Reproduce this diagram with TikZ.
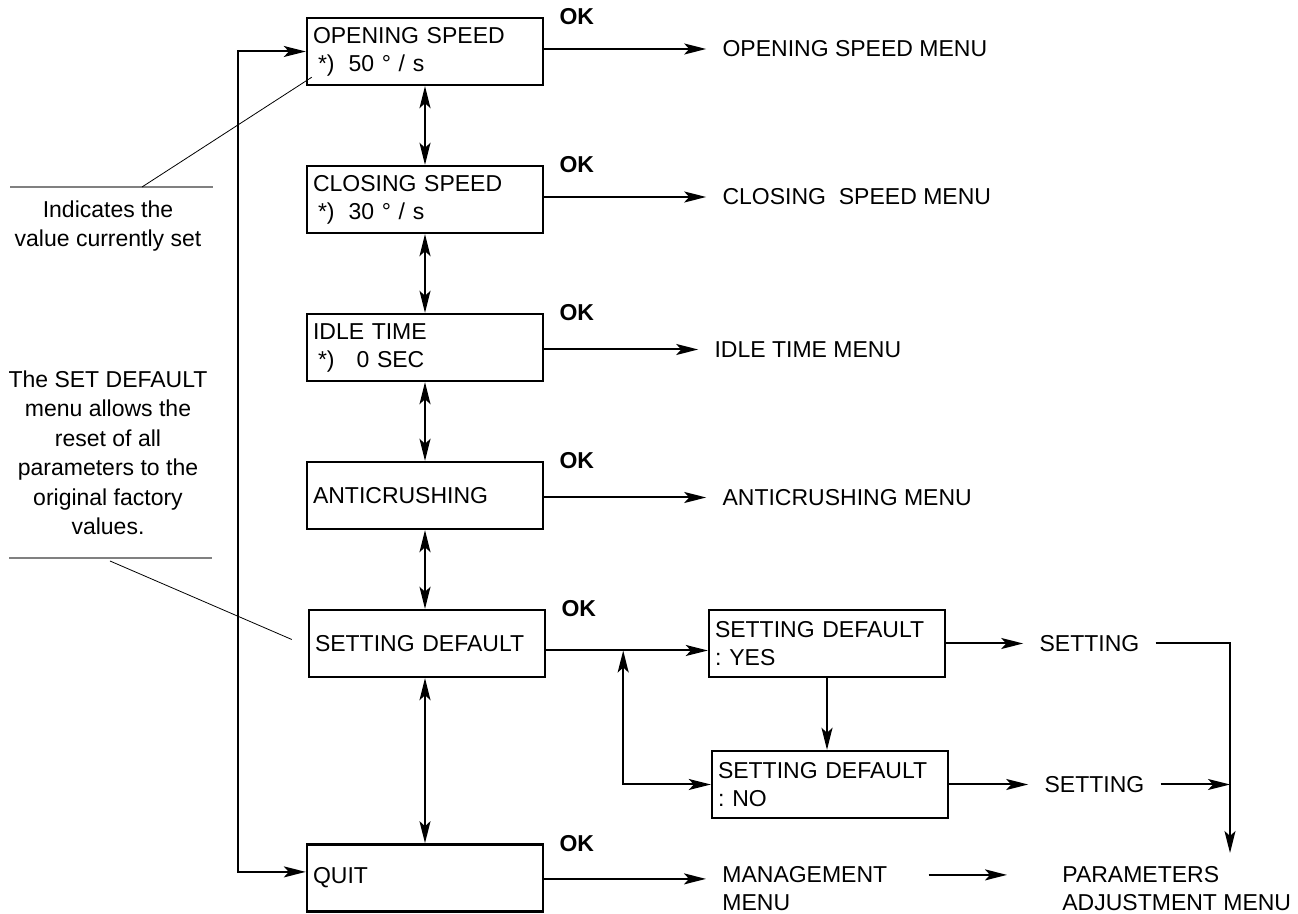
\documentclass[tikz,border=0pt]{standalone}
\usepackage{fontspec}
\setmainfont{Liberation Sans}
\usepackage{tikz}
\usetikzlibrary{calc, positioning, arrows.meta}

\newcommand{\boxfont}{\fontsize{11.5}{14}\selectfont}
\newcommand{\notefont}{\fontsize{11.5}{14.75}\selectfont}

\begin{document}
\begin{tikzpicture}[
        x=0.5pt, y=-0.5pt,
        >={Stealth[length=11pt, width=5.5pt, inset=2.5pt]},
        menubox/.style={draw, line width=1.2pt, rectangle, text width=112pt, inner xsep=3pt, minimum height=33.5pt, align=left, font=\boxfont},
        menulbl/.style={inner xsep=8pt, inner ysep=0pt, align=left, font=\boxfont},
        oklbl/.style={inner sep=0pt, font=\boxfont\bfseries},
        notelbl/.style={inner sep=0pt, align=center, font=\notefont},
        link/.style={line width=1pt, ->},
        rule/.style={gray, line width=0.6pt},
        lead/.style={line width=0.4pt},
        node distance=39.3pt
      ]
        \useasboundingbox (0,0) rectangle (1298,914);

        % Main menu column
        \node[menubox] (open) at (425,51.5) {OPENING SPEED\\ \hspace*{2.5pt}*)\hspace{7pt}50 ° / s};
        \node[menubox, below=of open] (close) {CLOSING SPEED\\ \hspace*{2.5pt}*)\hspace{7pt}30 ° / s};
        \node[menubox, below=of close] (idle) {IDLE TIME\\ \hspace*{2.5pt}*)\hspace{11pt}0 SEC};
        \node[menubox, below=of idle] (anti) {ANTICRUSHING};
        \node[menubox, below=of anti, xshift=1pt] (setdef) {SETTING DEFAULT};
        \node[menubox, below=82.5pt of setdef, xshift=-1pt] (quit) {QUIT};

        % Setting default choices
        \node[menubox, right=80.8pt of setdef] (yes) {SETTING DEFAULT\\:\hspace{4pt}YES};
        \node[menubox, below=35.8pt of yes, xshift=1.5pt] (no) {SETTING DEFAULT\\:\hspace{4pt}NO};

        % OK labels
        \foreach \b in {open, close, idle, anti, setdef, quit}
          \node[oklbl, anchor=west] (ok-\b) at ([xshift=7.5pt]\b.north east) {OK};

        % Sub menus
        \node[menulbl, right=81pt of open, yshift=1.25pt] (opm) {OPENING SPEED MENU};
        \node[menulbl, right=81pt of close, yshift=1.25pt] (clm) {CLOSING\ \ SPEED MENU};
        \node[menulbl, right=77pt of idle, yshift=-1pt] (idm) {IDLE TIME MENU};
        \node[menulbl, right=81pt of anti, yshift=-1pt] (acm) {ANTICRUSHING MENU};
        \node[menulbl, right=38.5pt of yes] (set1) {SETTING};
        \node[menulbl, right=39.5pt of no] (set2) {SETTING};
        \node[menulbl, anchor=north west] (mgmt) at (706,866) {MANAGEMENT\\MENU};
        \node[menulbl, anchor=north west] (param) at (1046,866) {PARAMETERS\\ADJUSTMENT MENU};
        \coordinate (drop) at (1230,853);

        % Notes
        \node[notelbl, anchor=north] (note1) at (108,200) {Indicates the\\value currently set};
        \node[notelbl, anchor=north] (note2) at (108,370) {The SET DEFAULT\\menu allows the\\reset of all\\parameters to the\\original factory\\values.};
        \draw[rule] (10,187) -- (213,187);
        \draw[lead] (142,187) -- ($(open.south west)+(6,-9)$);
        \draw[rule] (9,558) -- (212,558);
        \draw[lead] (110,561) -- ($(setdef.west)+(-16,-4)$);

        % Up and down between menus
        \foreach \a/\b in {open/close, close/idle, idle/anti, anti/setdef, setdef/quit}
          \draw[link, <->] (\a.south -| open.south) -- (\b.north -| open.north);
        \draw[link, <->] (open.west) -- ++(-68,0) |- ($(quit.west)+(0,-6)$);

        % OK arrows
        \draw[link] (open.east |- opm.west) -- (opm.west);
        \draw[link] (close.east |- clm.west) -- (clm.west);
        \draw[link] (idle.east |- idm.west) -- (idm.west);
        \draw[link] (anti.east |- acm.west) -- (acm.west);
        \draw[link] ($(setdef.east)+(0,7)$) -- ($(yes.west)+(0,7)$);
        \coordinate (jn) at ($(setdef.east)+(77,7)$);
        \draw[link, <->] (jn) |- (no.west);
        \draw[link] (yes.south) -- (yes.south |- no.north);
        \draw[link] (yes.east) -- (set1.west);
        \draw[link] (no.east) -- (set2.west);
        \draw[link] (set1.east) -| (drop);
        \draw[link] (set2.east) -- (set2.east -| drop);
        \draw[link] ($(quit.east)+(0,1)$) -- ($(quit.east -| mgmt.west)+(0,1)$);
        \draw[link] ($(mgmt.east |- quit.east)+(25,-3)$) -- ($(param.west |- quit.east)+(-39,-3)$);
      \end{tikzpicture}
\end{document}
